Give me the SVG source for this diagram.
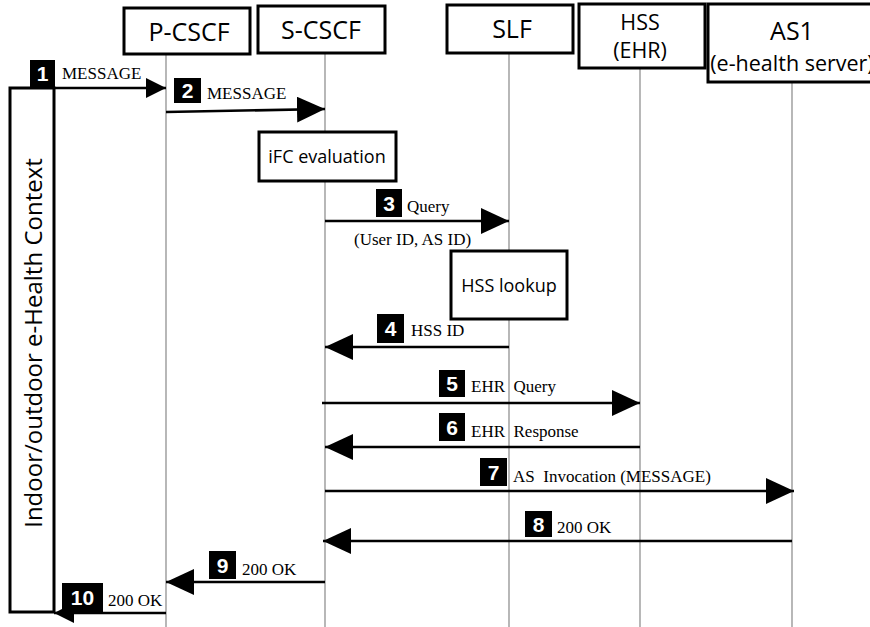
<svg xmlns="http://www.w3.org/2000/svg" width="870" height="627" viewBox="0 0 870 627">
<style>
.box{fill:#fff;stroke:#000;stroke-width:3}
.life{stroke:#888;stroke-width:1.2}
.hdr{font-family:"Open Sans","Liberation Sans",sans-serif;font-size:25px;fill:#000;text-anchor:middle}
.hdr2{font-family:"Open Sans","Liberation Sans",sans-serif;font-size:21.5px;fill:#000;text-anchor:middle}
.act{font-family:"Open Sans","Liberation Sans",sans-serif;font-size:18px;fill:#000;text-anchor:middle}
.msg{stroke:#000;stroke-width:2.6;fill:none}
.lbl{font-family:"Liberation Serif","Times New Roman",serif;font-size:17px;fill:#000}
.badge{fill:#000}
.num{font-family:"Liberation Sans",Arial,sans-serif;font-weight:bold;font-size:21px;fill:#fff;text-anchor:middle}
</style>
<defs>
<marker id="ah" markerUnits="userSpaceOnUse" markerWidth="30" markerHeight="28" refX="28" refY="13" orient="auto">
<path d="M0,0 L28,13 L0,26 z" fill="#000"/>
</marker>
<marker id="ahs" markerUnits="userSpaceOnUse" markerWidth="22" markerHeight="22" refX="20" refY="10" orient="auto">
<path d="M0,0 L20,10 L0,20 z" fill="#000"/>
</marker>
</defs>
<rect width="870" height="627" fill="#fff"/>
<g id="lifelines">
<line class="life" x1="166" y1="54" x2="166" y2="627"/>
<line class="life" x1="325" y1="53" x2="325" y2="627"/>
<line class="life" x1="509" y1="53" x2="509" y2="627"/>
<line class="life" x1="640" y1="68" x2="640" y2="627"/>
<line class="life" x1="792" y1="82" x2="792" y2="627"/>
</g>
<g id="pcscf"><rect class="box" x="124" y="8" width="126" height="46"/><text class="hdr" x="189" y="41">P-CSCF</text></g>
<g id="scscf"><rect class="box" x="258" y="6" width="127" height="47"/><text class="hdr" x="321" y="39">S-CSCF</text></g>
<g id="slf"><rect class="box" x="447" y="5" width="126" height="48"/><text class="hdr" x="512" y="38">SLF</text></g>
<g id="hss"><rect class="box" x="579" y="4" width="126" height="64"/><text class="hdr2" x="640" y="30">HSS</text><text class="hdr2" x="640" y="58">(EHR)</text></g>
<g id="as1"><rect class="box" x="708" y="4" width="170" height="78"/><text class="hdr" x="792" y="40">AS1</text><text class="hdr2" x="792" y="71">(e-health server)</text></g>
<g id="context"><rect class="box" x="10" y="88" width="44" height="524"/><text class="hdr2" transform="translate(42,343) rotate(-90)" style="font-size:24px">Indoor/outdoor e-Health Context</text></g>
<g id="ifc"><rect class="box" x="259" y="132" width="137" height="49"/><text class="act" x="327" y="163">iFC evaluation</text></g>
<g id="hsslookup"><rect class="box" x="451" y="251" width="116" height="68"/><text class="act" x="509" y="292">HSS lookup</text></g>
<g id="connectors">
<line class="msg" x1="54" y1="88" x2="166" y2="88" marker-end="url(#ahs)"/>
<line class="msg" x1="166" y1="112" x2="325" y2="109" marker-end="url(#ah)"/>
<line class="msg" x1="325" y1="221" x2="509" y2="221" marker-end="url(#ah)"/>
<line class="msg" x1="509" y1="347" x2="325" y2="347" marker-end="url(#ah)"/>
<line class="msg" x1="322" y1="403" x2="640" y2="403" marker-end="url(#ah)"/>
<line class="msg" x1="640" y1="447" x2="325" y2="447" marker-end="url(#ah)"/>
<line class="msg" x1="325" y1="491" x2="794" y2="491" marker-end="url(#ah)"/>
<line class="msg" x1="792" y1="541" x2="323" y2="541" marker-end="url(#ah)"/>
<line class="msg" x1="325" y1="582" x2="166" y2="582" marker-end="url(#ah)"/>
<line class="msg" x1="166" y1="613" x2="54" y2="613" marker-end="url(#ahs)"/>
</g>
<g id="labels">
<rect class="badge" x="30" y="60" width="25" height="27"/><text class="num" x="42.5" y="81">1</text>
<text class="lbl" x="62" y="79">MESSAGE</text>
<rect class="badge" x="174" y="78" width="27" height="25"/><text class="num" x="187.5" y="98">2</text>
<text class="lbl" x="207" y="99">MESSAGE</text>
<rect class="badge" x="376" y="189" width="26" height="28"/><text class="num" x="389" y="211">3</text>
<text class="lbl" x="407" y="212">Query</text>
<text class="lbl" x="354" y="245">(User ID, AS ID)</text>
<rect class="badge" x="377" y="314" width="27" height="29"/><text class="num" x="390.5" y="336">4</text>
<text class="lbl" x="411" y="336">HSS ID</text>
<rect class="badge" x="439" y="370" width="26" height="27"/><text class="num" x="452" y="391">5</text>
<text class="lbl" x="471" y="392" xml:space="preserve">EHR  Query</text>
<rect class="badge" x="439" y="413" width="26" height="28"/><text class="num" x="452" y="435">6</text>
<text class="lbl" x="471" y="437" xml:space="preserve">EHR  Response</text>
<rect class="badge" x="480" y="458" width="27" height="28"/><text class="num" x="493.5" y="480">7</text>
<text class="lbl" x="513" y="482" xml:space="preserve">AS  Invocation (MESSAGE)</text>
<rect class="badge" x="525" y="511" width="27" height="26"/><text class="num" x="538.5" y="532">8</text>
<text class="lbl" x="557" y="533">200 OK</text>
<rect class="badge" x="209" y="551" width="27" height="28"/><text class="num" x="222.5" y="573">9</text>
<text class="lbl" x="242" y="575">200 OK</text>
<rect class="badge" x="62" y="583" width="41" height="29"/><text class="num" x="82.5" y="605">10</text>
<text class="lbl" x="108" y="606">200 OK</text>
</g>
</svg>
